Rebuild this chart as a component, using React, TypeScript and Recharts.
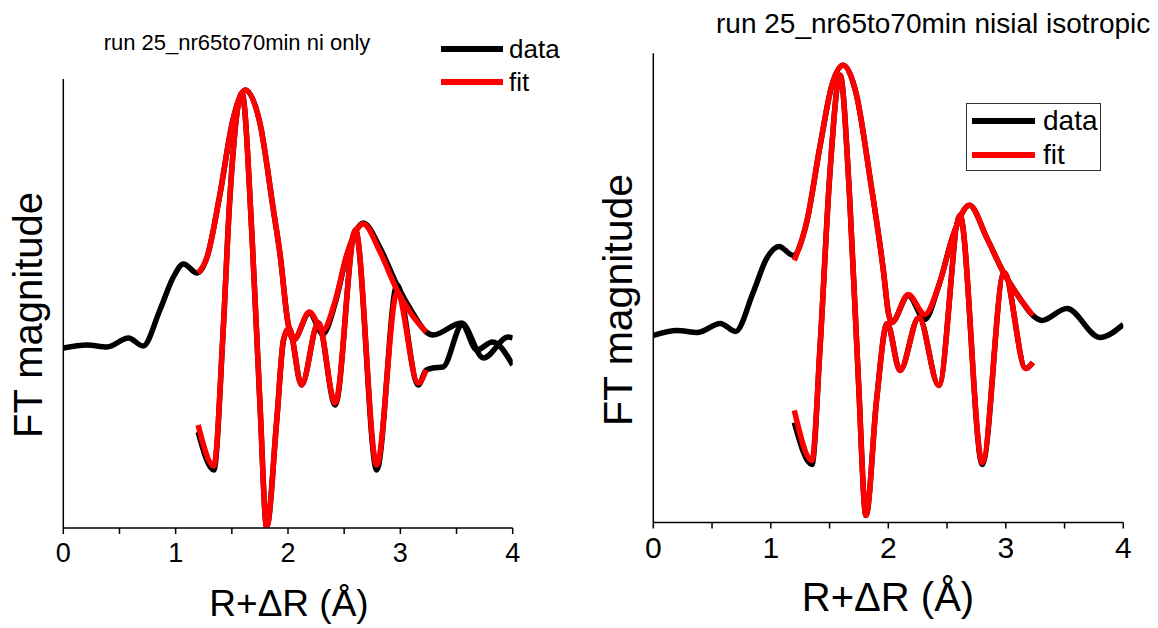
import { LineChart, Line, XAxis, YAxis, Legend } from "recharts";

const FONT = '"Liberation Sans", Arial, Helvetica, sans-serif';

// R+dR ticks (minor ticks at the halves carry no label)
const rTicks = [0, 0.5, 1, 1.5, 2, 2.5, 3, 3.5, 4];

// ---- left panel: "ni only" (arbitrary FT units) ----
const leftDataMagR = [0, 0.21, 0.39, 0.58, 0.71, 0.86, 0.98, 1.07, 1.19, 1.28, 1.39, 1.51, 1.62, 1.75, 1.87, 1.93, 2.0, 2.05, 2.19, 2.31, 2.42, 2.52, 2.6, 2.67, 2.82, 2.97, 3.11, 3.23, 3.29, 3.545, 3.74, 3.96, 4.0];
const leftDataMag = [1.8, 1.83, 1.81, 1.9, 1.82, 2.18, 2.51, 2.64, 2.55, 2.71, 3.31, 4.08, 4.38, 4.05, 3.18, 2.73, 2.05, 1.88, 2.15, 1.94, 2.25, 2.71, 2.96, 3.05, 2.8, 2.43, 2.15, 1.96, 1.93, 2.05, 1.7, 1.91, 1.9];
const leftDataReR = [1.2, 1.34, 1.42, 1.48, 1.59, 1.68, 1.75, 1.81, 1.9, 1.96, 2.01, 2.12, 2.27, 2.42, 2.6, 2.79, 2.97, 3.16, 3.23, 3.29, 3.38, 3.55, 3.68, 3.82, 4.0];
const leftDataRe = [0.96, 0.58, 1.91, 3.25, 4.35, 2.91, 1.25, 0.01, 1.08, 1.88, 2.0, 1.43, 2.05, 1.23, 2.98, 0.58, 2.43, 1.43, 1.58, 1.6, 1.61, 2.03, 1.78, 1.86, 1.63];
const leftFitMagR = [1.2, 1.28, 1.39, 1.51, 1.62, 1.75, 1.87, 1.93, 2.0, 2.05, 2.19, 2.31, 2.42, 2.52, 2.6, 2.67, 2.82, 2.97, 3.11, 3.23];
const leftFitMag = [2.55, 2.71, 3.31, 4.08, 4.38, 4.05, 3.18, 2.73, 2.05, 1.88, 2.16, 1.98, 2.27, 2.72, 2.96, 3.04, 2.76, 2.38, 2.12, 1.96];
const leftFitReR = [1.2, 1.34, 1.42, 1.48, 1.59, 1.68, 1.75, 1.81, 1.9, 1.96, 2.01, 2.12, 2.27, 2.42, 2.6, 2.79, 2.97, 3.16, 3.23];
const leftFitRe = [1.03, 0.62, 1.91, 3.25, 4.35, 2.91, 1.25, 0.01, 1.08, 1.88, 2.0, 1.43, 2.05, 1.25, 2.98, 0.63, 2.35, 1.45, 1.58];

// ---- right panel: "nisial isotropic" ----
const rightDataMagR = [0, 0.2, 0.38, 0.57, 0.7, 0.85, 0.965, 1.07, 1.19, 1.305, 1.42, 1.52, 1.617, 1.73, 1.845, 1.96, 2.0, 2.03, 2.17, 2.31, 2.43, 2.56, 2.69, 2.84, 2.98, 3.12, 3.23, 3.305, 3.52, 3.8, 4.0];
const rightDataMag = [1.87, 1.92, 1.9, 1.99, 1.91, 2.3, 2.64, 2.76, 2.67, 3.0, 3.77, 4.37, 4.57, 4.27, 3.44, 2.5, 2.1, 2.0, 2.27, 2.03, 2.37, 2.9, 3.17, 2.84, 2.5, 2.24, 2.07, 2.02, 2.14, 1.85, 1.98];
const rightDataReR = [1.2, 1.35, 1.42, 1.5, 1.59, 1.67, 1.745, 1.81, 1.9, 1.99, 2.1, 2.26, 2.43, 2.61, 2.8, 2.985, 3.17, 3.23];
const rightDataRe = [1.0, 0.58, 1.77, 3.44, 4.47, 3.27, 1.44, 0.07, 1.22, 1.99, 1.52, 2.05, 1.37, 3.07, 0.58, 2.5, 1.54, 1.6];
const rightFitMagR = [1.2, 1.305, 1.42, 1.52, 1.617, 1.73, 1.845, 1.96, 2.0, 2.03, 2.17, 2.31, 2.43, 2.56, 2.69, 2.84, 2.98, 3.12, 3.23];
const rightFitMag = [2.62, 3.0, 3.77, 4.37, 4.57, 4.27, 3.44, 2.5, 2.1, 2.0, 2.28, 2.08, 2.37, 2.9, 3.17, 2.84, 2.5, 2.24, 2.07];
const rightFitRe = [1.12, 0.62, 1.77, 3.44, 4.47, 3.27, 1.44, 0.07, 1.22, 1.99, 1.52, 2.05, 1.37, 3.07, 0.6, 2.5, 1.54, 1.6];

const legendNames = ["data", "fit"];

const toPoints = (r: number[], v: number[]) => r.map((x, i) => ({ r: x, v: v[i] }));

const LegendRows = ({ payload, fontSize, rowHeight, lineWidth, gap }: any) => (
  <div>
    {(payload || [])
      .filter((entry: any) => entry.type !== "none" && legendNames.includes(entry.value))
      .map((entry: any) => (
        <div
          key={entry.value}
          style={{ display: "flex", alignItems: "center", height: rowHeight, whiteSpace: "nowrap" }}
        >
          <div style={{ width: lineWidth, height: 6, background: entry.color, flex: "none" }} />
          <span
            style={{
              marginLeft: gap,
              fontSize,
              fontFamily: FONT,
              color: "#000",
              lineHeight: 1,
            }}
          >
            {entry.value}
          </span>
        </div>
      ))}
  </div>
);

const FitPanel = ({ p }: any) => {
  const lineProps = {
    dataKey: "v",
    type: "monotone" as const,
    strokeWidth: 5.5,
    dot: false,
    activeDot: false,
    isAnimationActive: false,
  };
  return (
    <div style={{ position: "absolute", left: p.left, top: 0, width: p.width, height: 628 }}>
      <LineChart width={p.width} height={628} margin={p.margin}>
        <XAxis
          type="number"
          dataKey="r"
          domain={[0, 4]}
          ticks={rTicks}
          interval={0}
          allowDataOverflow
          height={30}
          tickSize={6}
          tickMargin={p.tickMargin}
          tickFormatter={(t: number) => (Number.isInteger(t) ? String(t) : "")}
          axisLine={{ stroke: "#000", strokeWidth: 1.5 }}
          tickLine={{ stroke: "#000", strokeWidth: 1.5 }}
          tick={{ fill: "#000", fontSize: p.tickFont, fontFamily: FONT }}
        />
        <YAxis
          type="number"
          domain={[0, p.yMax]}
          allowDataOverflow
          width={1}
          tick={false}
          tickLine={false}
          axisLine={{ stroke: "#000", strokeWidth: 1.5 }}
        />
        <Line {...lineProps} data={p.dataMag} stroke="#000000" name="data" />
        <Line {...lineProps} data={p.dataRe} stroke="#000000" name="data (real)" legendType="none" />
        <Line {...lineProps} data={p.fitMag} stroke="#ff0000" name="fit" />
        <Line {...lineProps} data={p.fitRe} stroke="#ff0000" name="fit (real)" legendType="none" />
        <Legend
          layout="vertical"
          align="center"
          verticalAlign="middle"
          wrapperStyle={p.legendStyle}
          content={(props: any) => <LegendRows {...props} {...p.legendRows} />}
        />
      </LineChart>
      <div
        style={{
          position: "absolute",
          ...p.titleStyle,
          fontFamily: FONT,
          fontSize: p.titleFont,
          lineHeight: 1,
          whiteSpace: "nowrap",
          color: "#000",
        }}
      >
        {p.title}
      </div>
      <div
        style={{
          position: "absolute",
          left: p.xLabel[0],
          top: p.xLabel[1],
          transform: "translate(-50%, -50%)",
          fontFamily: FONT,
          fontSize: p.xLabelFont,
          lineHeight: 1,
          whiteSpace: "nowrap",
          color: "#000",
        }}
      >
        R+ΔR (Å)
      </div>
      <div
        style={{
          position: "absolute",
          left: p.yLabel[0],
          top: p.yLabel[1],
          transform: "translate(-50%, -50%) rotate(-90deg)",
          fontFamily: FONT,
          fontSize: p.yLabelFont,
          lineHeight: 1,
          whiteSpace: "nowrap",
          color: "#000",
        }}
      >
        FT magnitude
      </div>
    </div>
  );
};

const leftPanel = {
  left: 0,
  width: 580,
  margin: { top: 79, left: 62.3, right: 67.3, bottom: 70 },
  yMax: 4.49,
  tickMargin: 9,
  tickFont: 27,
  dataMag: toPoints(leftDataMagR, leftDataMag),
  dataRe: toPoints(leftDataReR, leftDataRe),
  fitMag: toPoints(leftFitMagR, leftFitMag),
  fitRe: toPoints(leftFitReR, leftFitRe),
  title: "run 25_nr65to70min ni only",
  titleFont: 22,
  titleStyle: { left: 237, top: 43, transform: "translate(-50%, -50%)" },
  xLabel: [289, 603],
  xLabelFont: 37,
  yLabel: [28, 315],
  yLabelFont: 40,
  legendStyle: { left: 441, top: 32, width: 140, height: 66 },
  legendRows: { fontSize: 26, rowHeight: 33, lineWidth: 62, gap: 6 },
};

const rightPanel = {
  left: 580,
  width: 578,
  margin: { top: 53.3, left: 72.3, right: 34.7, bottom: 75.5 },
  yMax: 4.69,
  tickMargin: 8,
  tickFont: 30,
  dataMag: toPoints(rightDataMagR, rightDataMag),
  dataRe: toPoints(rightDataReR, rightDataRe),
  fitMag: toPoints(rightFitMagR, rightFitMag),
  fitRe: toPoints(rightDataReR, rightFitRe),
  title: "run 25_nr65to70min nisial isotropic",
  titleFont: 28,
  titleStyle: { left: 136, top: 24, transform: "translate(0, -50%)" },
  xLabel: [308, 597],
  xLabelFont: 40,
  yLabel: [38, 300],
  yLabelFont: 41,
  legendStyle: {
    left: 386,
    top: 103,
    width: 135,
    height: 68,
    border: "1px solid #333",
    boxSizing: "border-box",
    padding: "0 0 0 5px",
    background: "#fff",
  },
  legendRows: { fontSize: 28, rowHeight: 34, lineWidth: 63, gap: 8 },
};

export default function App() {
  return (
    <div
      style={{
        position: "absolute",
        left: 0,
        top: 0,
        width: 1158,
        height: 628,
        overflow: "hidden",
        background: "#fff",
      }}
    >
      <FitPanel p={leftPanel} />
      <FitPanel p={rightPanel} />
    </div>
  );
}
